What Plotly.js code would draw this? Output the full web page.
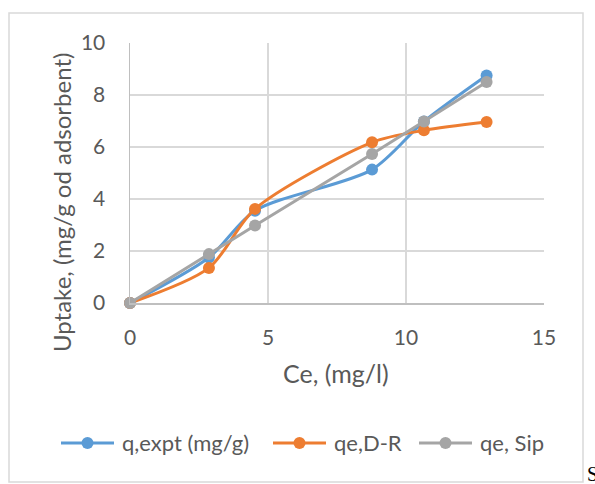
<!DOCTYPE html>
<html>
<head>
<meta charset="utf-8">
<script src="https://cdn.plot.ly/plotly-3.0.1.min.js"></script>
<style>html,body{margin:0;padding:0;background:#fff;}#chart{width:595px;height:484px;}</style>
</head>
<body>
<div id="chart"></div>
<script>
var ce = [0, 2.86, 4.53, 8.77, 10.65, 12.92];
var qExpt = [0, 1.75, 3.55, 5.13, 6.98, 8.75];
var qeDR = [0, 1.35, 3.62, 6.18, 6.64, 6.96];
var qeSip = [0, 1.88, 2.98, 5.73, 6.98, 8.5];
var seriesNames = ["q,expt (mg/g)", "qe,D-R", "qe, Sip"];
var colors = ["#5B9BD5", "#ED7D31", "#A5A5A5"];
var xTicks = [0, 5, 10, 15];
var yTicks = [0, 2, 4, 6, 8, 10];
var xTitle = "Ce, (mg/l)";
var yTitle = "Uptake, (mg/g od adsorbent)";

var W = 595, H = 484;
var L = 130, R = 544, T = 43, B = 303;
function px(x){ return (x - L) / (R - L); }
function py(y){ return (B - y) / (B - T); }

var ys = [qExpt, qeDR, qeSip];
var lineShapes = ["spline", "spline", "linear"];
var traces = ys.map(function(v, i){
  return {
    x: ce, y: v, name: seriesNames[i], type: "scatter", mode: "lines+markers",
    line: {color: colors[i], width: 3, shape: lineShapes[i], smoothing: 0.8},
    marker: {color: colors[i], size: 12},
    cliponaxis: false, showlegend: false
  };
});

var font = "Lato, 'Open Sans', sans-serif";
var txt = "#595959";

// custom legend (Excel style: long line with marker in the middle)
var legLines = [[61, 114, 120], [273, 326, 332], [419, 472, 478]];
var legY = 443;
var shapes = [
  {type: "rect", xref: "paper", yref: "paper", x0: px(9), x1: px(583), y0: py(13), y1: py(482),
   line: {color: "#D9D9D9", width: 1.5}, fillcolor: "rgba(0,0,0,0)", layer: "below"}
];
var annotations = [
  {xref: "paper", yref: "paper", x: px(336), y: py(373), xanchor: "center", yanchor: "middle",
   text: xTitle, showarrow: false, font: {family: font, size: 25, color: txt}},
  {xref: "paper", yref: "paper", x: px(61), y: py(203), xanchor: "center", yanchor: "middle",
   textangle: -90, text: yTitle, showarrow: false, font: {family: font, size: 24, color: txt}},
  {xref: "paper", yref: "paper", x: px(585), y: py(474), xanchor: "left", yanchor: "middle",
   text: "S", showarrow: false, font: {family: "'Liberation Serif', serif", size: 20, color: "#000"}}
];
legLines.forEach(function(p, i){
  shapes.push({type: "line", xref: "paper", yref: "paper", x0: px(p[0]), x1: px(p[1]), y0: py(legY), y1: py(legY),
               line: {color: colors[i], width: 3}});
  var cx = (p[0] + p[1]) / 2, r = 6;
  shapes.push({type: "circle", xref: "paper", yref: "paper", x0: px(cx - r), x1: px(cx + r),
               y0: py(legY + r), y1: py(legY - r), line: {width: 0}, fillcolor: colors[i]});
  annotations.push({xref: "paper", yref: "paper", x: px(p[2]), y: py(legY), xanchor: "left", yanchor: "middle",
                    text: seriesNames[i], showarrow: false, font: {family: font, size: 22, color: txt}});
});

var layout = {
  width: W, height: H,
  margin: {l: L, r: W - R, t: T, b: H - B},
  paper_bgcolor: "#fff", plot_bgcolor: "#fff",
  font: {family: font, size: 21, color: txt},
  showlegend: false,
  xaxis: {range: [0, 15], tickvals: xTicks, ticktext: xTicks.map(String),
          showgrid: true, gridcolor: "#D9D9D9", gridwidth: 1.5, zeroline: false,
          showline: true, linecolor: "#BFBFBF", linewidth: 1.5,
          ticks: "outside", ticklen: 15, tickcolor: "rgba(0,0,0,0)", fixedrange: true,
          tickfont: {family: font, size: 21, color: txt}},
  yaxis: {range: [0, 10], tickvals: yTicks, ticktext: yTicks.map(String),
          showgrid: true, gridcolor: "#D9D9D9", gridwidth: 1.5, zeroline: false,
          showline: true, linecolor: "#BFBFBF", linewidth: 1.5,
          ticks: "outside", ticklen: 19, tickcolor: "rgba(0,0,0,0)", fixedrange: true,
          tickfont: {family: font, size: 21, color: txt}},
  shapes: shapes,
  annotations: annotations
};

Plotly.newPlot("chart", traces, layout, {displayModeBar: false, staticPlot: true});
</script>
</body>
</html>
